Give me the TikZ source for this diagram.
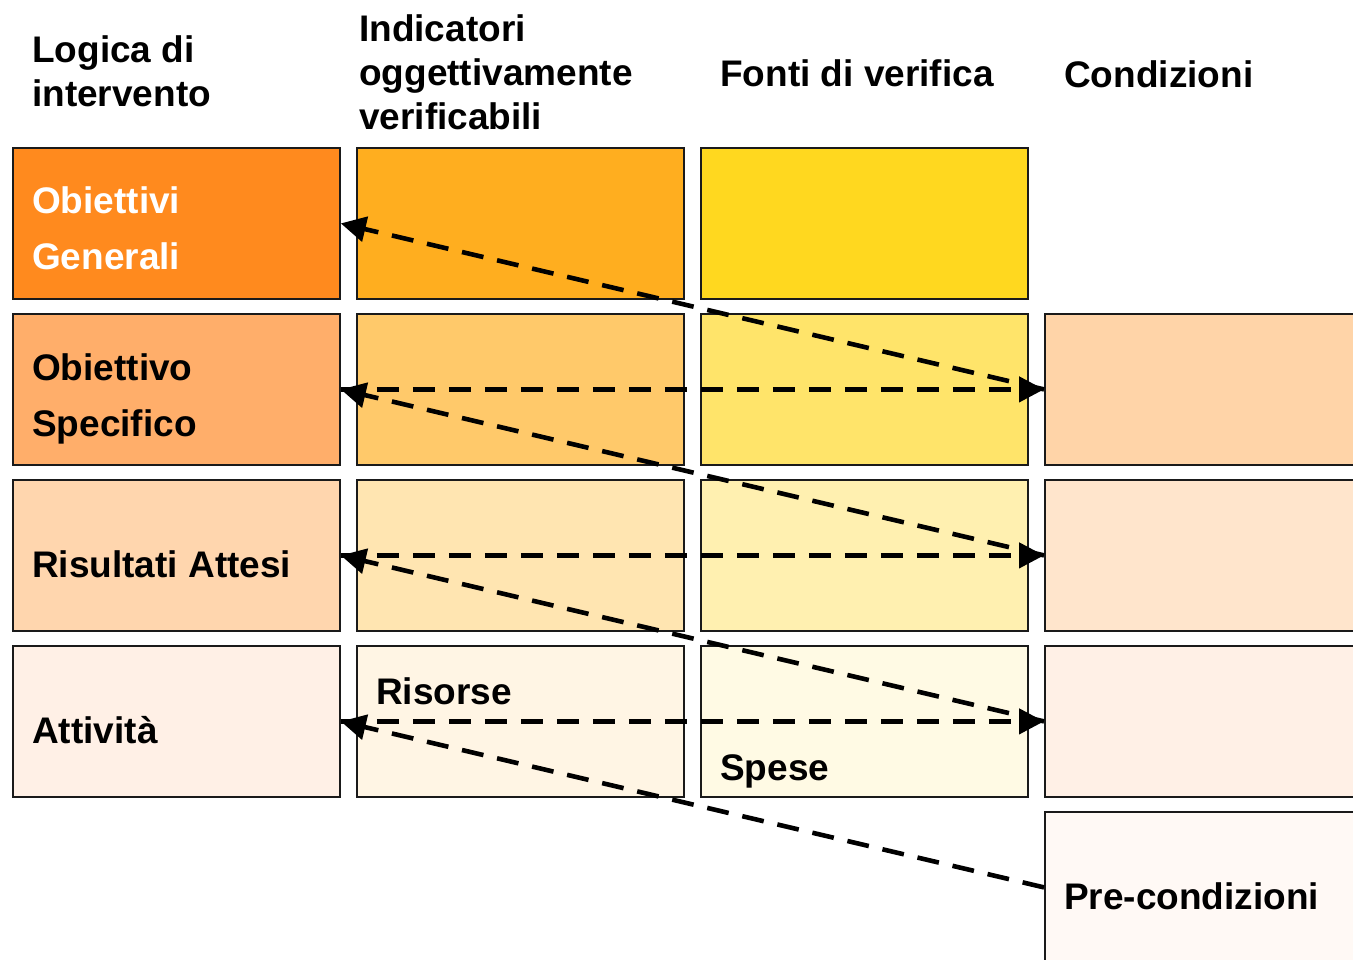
\documentclass[tikz,border=0pt]{standalone}
\usepackage{fontspec}
\setmainfont{Liberation Sans}
\usetikzlibrary{arrows.meta}

% cell fills
\definecolor{lA}{HTML}{FF8A1E}
\definecolor{iA}{HTML}{FFAE1F}
\definecolor{fA}{HTML}{FFD81F}
\definecolor{lB}{HTML}{FFAE6A}
\definecolor{iB}{HTML}{FFC96A}
\definecolor{fB}{HTML}{FFE46A}
\definecolor{cB}{HTML}{FFD4A8}
\definecolor{lC}{HTML}{FFD6AE}
\definecolor{iC}{HTML}{FFE5B1}
\definecolor{fC}{HTML}{FFF0B0}
\definecolor{cC}{HTML}{FFE5CC}
\definecolor{lD}{HTML}{FFF0E6}
\definecolor{iD}{HTML}{FFF5E4}
\definecolor{fD}{HTML}{FFFAE4}
\definecolor{cD}{HTML}{FFF0E6}
\definecolor{cE}{HTML}{FFF9F5}
\definecolor{edge}{HTML}{1A1A1A}

\tikzset{
  cell/.style={draw=edge, line width=1.8pt, anchor=north west, inner sep=0pt,
               minimum width=327pt, minimum height=151pt},
  widecell/.style={cell, minimum width=330pt},
  head/.style={anchor=base west, inner sep=0pt, font=\bfseries\fontsize{37}{44}\selectfont,
               align=left},
  lbl/.style={anchor=base west, inner sep=0pt, font=\bfseries\fontsize{37}{56}\selectfont,
              align=left},
  link/.style={line width=4.6pt, dash pattern=on 22pt off 14pt,
               -{Triangle[length=25pt,width=25pt]}}
}

\begin{document}
\begin{tikzpicture}[x=1pt,y=1pt]
\useasboundingbox (0,0) rectangle (1353,-960);

% column headings (anchored at the baseline of their last line)
\node[head] (hl) at (32,-107) {Logica di\\intervento};
\node[head] (hi) at (359,-130) {Indicatori\\oggettivamente\\verificabili};
\node[head] (hf) at (720,-87) {Fonti di verifica};
\node[head] (hc) at (1064,-88) {Condizioni};

% row 1
\node[cell, fill=lA] (l1) at (12,-147) {};
\node[cell, fill=iA] (i1) at (356,-147) {};
\node[cell, fill=fA] (f1) at (700,-147) {};
% row 2
\node[cell, fill=lB] (l2) at (12,-313) {};
\node[cell, fill=iB] (i2) at (356,-313) {};
\node[cell, fill=fB] (f2) at (700,-313) {};
\node[widecell, fill=cB] (c2) at (1044,-313) {};
% row 3
\node[cell, fill=lC] (l3) at (12,-479) {};
\node[cell, fill=iC] (i3) at (356,-479) {};
\node[cell, fill=fC] (f3) at (700,-479) {};
\node[widecell, fill=cC] (c3) at (1044,-479) {};
% row 4
\node[cell, fill=lD] (l4) at (12,-645) {};
\node[cell, fill=iD] (i4) at (356,-645) {};
\node[cell, fill=fD] (f4) at (700,-645) {};
\node[widecell, fill=cD] (c4) at (1044,-645) {};
% row 5
\node[widecell, fill=cE] (c5) at (1044,-811) {};

% cell texts
\node[lbl, text=white] (t1) at (32,-270) {Obiettivi\\Generali};
\node[lbl] (t2) at (32,-436) {Obiettivo\\Specifico};
\node[lbl] (t3) at (32,-577) {Risultati Attesi};
\node[lbl] (t4) at (32,-743) {Attività};
\node[lbl] (tr) at (376,-704) {Risorse};
\node[lbl] (ts) at (720,-780) {Spese};
\node[lbl] (tp) at (1064,-909) {Pre-condizioni};

% vertical logic: each level leads to the conditions of the level above
\draw[link] (c2.west) -- (l1.east);
\draw[link] (c3.west) -- (l2.east);
\draw[link] (c4.west) -- (l3.east);
\draw[link] (c5.west) -- (l4.east);
% horizontal logic: each level together with its conditions
\draw[link] (l2.east) -- (c2.west);
\draw[link] (l3.east) -- (c3.west);
\draw[link] (l4.east) -- (c4.west);
\end{tikzpicture}
\end{document}
